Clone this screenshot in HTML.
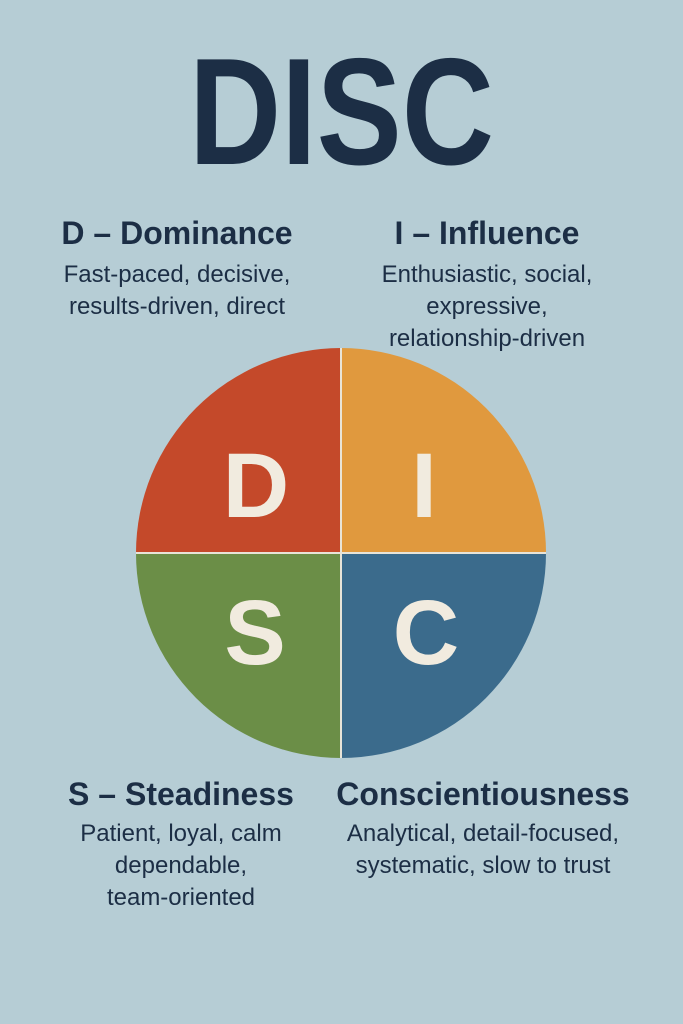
<!DOCTYPE html>
<html><head><style>
html,body{margin:0;padding:0}
body{width:683px;height:1024px;background:#b6cdd5;position:relative;overflow:hidden;font-family:"Liberation Sans",sans-serif;color:#1c2e45}
.t{position:absolute;text-align:center;white-space:nowrap}
.title{left:0;width:683px;top:32px;font-size:152px;font-weight:bold;line-height:160px;transform:scaleX(0.84)}
.h{font-size:32px;font-weight:bold;line-height:36px}
.d{font-size:24px;line-height:32px}
</style></head><body>
<div class="t title">DISC</div>
<div class="t h" style="left:27px;width:300px;top:215px">D – Dominance</div>
<div class="t d" style="left:27px;width:300px;top:259px">Fast-paced, decisive,<br>results-driven, direct</div>
<div class="t h" style="left:337px;width:300px;top:215px">I – Influence</div>
<div class="t d" style="left:337px;width:300px;top:259px">Enthusiastic, social,<br>expressive,<br>relationship-driven</div>
<svg style="position:absolute;left:0;top:0" width="683" height="1024">
<path d="M341,553 L136,553 A205,205 0 0 1 341,348 Z" fill="#c4492a"/>
<path d="M341,553 L341,348 A205,205 0 0 1 546,553 Z" fill="#e0993e"/>
<path d="M341,553 L546,553 A205,205 0 0 1 341,758 Z" fill="#3b6b8c"/>
<path d="M341,553 L341,758 A205,205 0 0 1 136,553 Z" fill="#6b8e47"/>
<line x1="341" y1="348" x2="341" y2="758" stroke="#e8e4d8" stroke-width="2"/>
<line x1="136" y1="553" x2="546" y2="553" stroke="#e8e4d8" stroke-width="2"/>
<g font-family="Liberation Sans,sans-serif" font-weight="bold" font-size="92" fill="#f1ebdf" text-anchor="middle">
<text x="256" y="517">D</text>
<text x="424" y="517">I</text>
<text x="255" y="664">S</text>
<text x="426" y="664">C</text>
</g>
</svg>
<div class="t h" style="left:31px;width:300px;top:776px">S – Steadiness</div>
<div class="t d" style="left:31px;width:300px;top:818px">Patient, loyal, calm<br>dependable,<br>team-oriented</div>
<div class="t h" style="left:323px;width:320px;top:776px">Conscientiousness</div>
<div class="t d" style="left:323px;width:320px;top:818px">Analytical, detail-focused,<br>systematic, slow to trust</div>
</body></html>
